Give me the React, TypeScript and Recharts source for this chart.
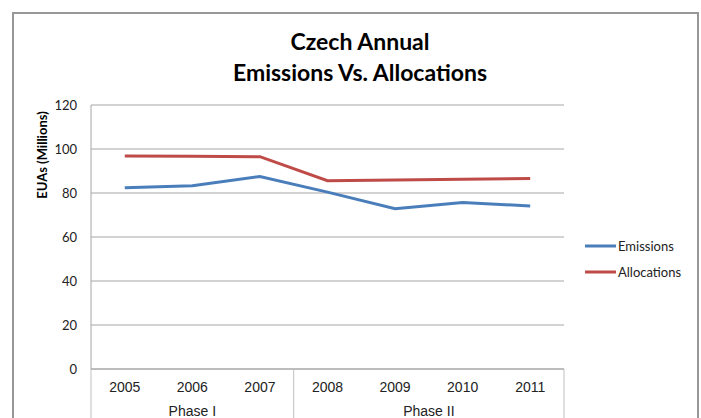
import React from 'react';
import { LineChart, Line, XAxis, YAxis, CartesianGrid, Legend } from 'recharts';

const years = ['2005', '2006', '2007', '2008', '2009', '2010', '2011'];
const phases = ['Phase I', 'Phase I', 'Phase I', 'Phase II', 'Phase II', 'Phase II', 'Phase II'];
const emissions = [82.4, 83.3, 87.5, 80.4, 72.9, 75.7, 74.1];
const allocations = [96.8, 96.7, 96.5, 85.6, 85.9, 86.3, 86.6];
const yTicks = [0, 20, 40, 60, 80, 100, 120];
const seriesNames = ['Emissions', 'Allocations'];
const seriesColors = ['#4A7EBB', '#BE4B48'];
const yAxisTitle = 'EUAs (Millions)';

const data = years.map((y, i) => ({
  year: y,
  phase: phases[i],
  Emissions: emissions[i],
  Allocations: allocations[i],
}));

const CHART_W = 701;
const CHART_H = 418;
const MARGIN = { top: 105, right: 137, bottom: 0, left: 31 };
const Y_AXIS_W = 60;
const X_AXIS_H = 49;
const PLOT_W = CHART_W - MARGIN.left - MARGIN.right - Y_AXIS_W;
const BAND = PLOT_W / years.length;

const CalibriLike = 'Lato, "Open Sans", sans-serif';
const ArialLike = '"Liberation Sans", Arial, sans-serif';

const CategoryTick = (props: any) => {
  const { x, y, index } = props;
  const i = index as number;
  const items: React.ReactNode[] = [];
  items.push(
    <text key="yr" x={x} y={y + 18} textAnchor="middle" dominantBaseline="central"
      fontFamily={ArialLike} fontSize={14} fill="#222">{years[i]}</text>
  );
  if (i === 0 || phases[i] !== phases[i - 1]) {
    let n = 1;
    while (i + n < phases.length && phases[i + n] === phases[i]) n++;
    items.push(
      <line key="sep" x1={x - BAND / 2} x2={x - BAND / 2} y1={y} y2={y + 70} stroke="#BFBFBF" strokeWidth={1} />
    );
    items.push(
      <text key="ph" x={x + ((n - 1) * BAND) / 2} y={y + 42} textAnchor="middle" dominantBaseline="central"
        fontFamily={ArialLike} fontSize={14} fill="#222">{phases[i]}</text>
    );
  }
  if (i === years.length - 1) {
    items.push(
      <line key="end" x1={x + BAND / 2} x2={x + BAND / 2} y1={y} y2={y + 70} stroke="#BFBFBF" strokeWidth={1} />
    );
  }
  return <g>{items}</g>;
};

const YTitle = () => (
  <text x={42} y={155} transform="rotate(-90 42 155)" textAnchor="middle" dominantBaseline="central"
    fontFamily={CalibriLike} fontWeight={700} fontSize={13} fill="#000">{yAxisTitle}</text>
);

const LegendContent = () => (
  <div style={{ fontFamily: CalibriLike, fontSize: 13, color: '#222' }}>
    {seriesNames.map((name, i) => (
      <div key={name} style={{ display: 'flex', alignItems: 'center', height: 26 }}>
        <svg width={33} height={6} style={{ display: 'block' }}>
          <line x1={0} x2={31} y1={3} y2={3} stroke={seriesColors[i]} strokeWidth={3} />
        </svg>
        <span>{name}</span>
      </div>
    ))}
  </div>
);

export default function App() {
  return (
    <div style={{ position: 'absolute', left: 0, top: 0, width: CHART_W, height: CHART_H, overflow: 'hidden', background: '#fff' }}>
      <div style={{ position: 'absolute', left: 12, top: 12, width: 683, height: 500, border: '2px solid #979797' }} />
      <div style={{ position: 'absolute', left: 10, top: 26, width: 700, textAlign: 'center', fontFamily: CalibriLike, fontWeight: 700, fontSize: 23, lineHeight: '31px', color: '#000' }}>
        <div>Czech Annual</div>
        <div>Emissions Vs. Allocations</div>
      </div>
      <div style={{ position: 'absolute', left: 0, top: 0 }}>
        <LineChart width={CHART_W} height={CHART_H} data={data} margin={MARGIN}>
          <CartesianGrid vertical={false} stroke="#A6A6A6" strokeWidth={1} />
          <XAxis dataKey="year" height={X_AXIS_H} interval={0} padding={{ left: BAND / 2, right: BAND / 2 }}
            axisLine={{ stroke: '#A6A6A6' }} tickLine={false} tickSize={0} tickMargin={0} tick={<CategoryTick />} />
          <YAxis width={Y_AXIS_W} domain={[0, 120]} ticks={yTicks} interval={0} axisLine={{ stroke: '#A6A6A6' }}
            tickLine={false} tickMargin={8}
            tick={{ fontFamily: CalibriLike, fontSize: 13, fill: '#222' }}
            label={<YTitle />} />
          <Legend layout="horizontal" verticalAlign="middle" align="center" content={<LegendContent />}
            wrapperStyle={{ position: 'absolute', left: 585, top: 233, width: 110 }} />
          {seriesNames.map((name, i) => (
            <Line key={name} type="linear" dataKey={name} stroke={seriesColors[i]} strokeWidth={3}
              dot={false} activeDot={false} isAnimationActive={false} />
          ))}
        </LineChart>
      </div>
    </div>
  );
}
